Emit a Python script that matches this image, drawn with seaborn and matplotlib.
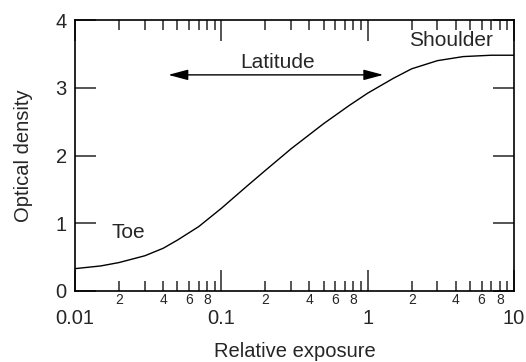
import matplotlib
matplotlib.use('Agg')
import matplotlib.pyplot as plt
import matplotlib.ticker as mticker
import numpy as np
import pandas as pd
import seaborn as sns

# Characteristic curve
exposure = [0.01, 0.015, 0.02, 0.03, 0.04, 0.05, 0.07, 0.1, 0.15, 0.2,
            0.3, 0.5, 0.75, 1.0, 1.5, 2.0, 3.0, 4.5, 7.0, 10.0]
density = [0.33, 0.37, 0.42, 0.52, 0.63, 0.75, 0.95, 1.22, 1.55, 1.78,
           2.10, 2.47, 2.74, 2.92, 3.14, 3.28, 3.40, 3.46, 3.48, 3.48]

major_ticks = [0.01, 0.1, 1, 10]
major_labels = ['0.01', '0.1', '1', '10']
minor_labelled = [2, 4, 6, 8]
y_ticks = [0, 1, 2, 3, 4]

latitude_span = (0.0434, 1.28)
latitude_level = 3.19

df = pd.DataFrame({'exposure': exposure, 'density': density})

sns.set_style('ticks')
plt.rcParams['font.family'] = ['Liberation Sans', 'DejaVu Sans']

fig = plt.figure(figsize=(5.26, 3.62), dpi=100)
ax = fig.add_axes([75 / 526, 1 - 291 / 362, 439 / 526, 271 / 362])

sns.lineplot(data=df, x='exposure', y='density', ax=ax, color='black', linewidth=1.0)

ax.set_xscale('log')
ax.set_xlim(0.01, 10)
ax.set_ylim(0, 4)

ax.xaxis.set_major_locator(mticker.FixedLocator(major_ticks))
ax.xaxis.set_major_formatter(mticker.FixedFormatter(major_labels))
ax.xaxis.set_minor_locator(mticker.LogLocator(base=10, subs=range(2, 10), numticks=20))


def minor_fmt(v, pos):
    m = v / 10 ** np.floor(np.log10(v) + 1e-9)
    d = int(round(m))
    return str(d) if d in minor_labelled else ''


ax.xaxis.set_minor_formatter(mticker.FuncFormatter(minor_fmt))
ax.set_yticks(y_ticks)
ax.yaxis.set_minor_locator(mticker.NullLocator())

ax.tick_params(which='both', direction='in', top=True, right=True, width=1.1)
ax.tick_params(which='major', length=15, labelsize=14.5)
ax.tick_params(axis='x', which='major', pad=13)
ax.tick_params(axis='x', which='minor', length=7, labelsize=10, pad=1.5)
ax.tick_params(axis='y', which='major', pad=6)

for s in ax.spines.values():
    s.set_linewidth(1.2)
    s.set_color('black')

ax.set_xlabel('Relative exposure', fontsize=14.5)
ax.set_ylabel('Optical density', fontsize=14.5)
ax.xaxis.set_label_coords(0.5, -0.19)
ax.yaxis.set_label_coords(-0.095, 0.5)

ax.annotate('', xy=(latitude_span[0], latitude_level), xytext=(latitude_span[1], latitude_level),
            arrowprops=dict(arrowstyle='<|-|>,head_length=0.6,head_width=0.16',
                            color='black', lw=1.0, mutation_scale=20,
                            shrinkA=0, shrinkB=0))
ax.text(0.244, 3.38, 'Latitude', ha='center', va='center', fontsize=15)
ax.text(3.72, 3.70, 'Shoulder', ha='center', va='center', fontsize=15)
ax.text(0.023, 0.86, 'Toe', ha='center', va='center', fontsize=15)

fig.savefig('out.png', dpi=100)
